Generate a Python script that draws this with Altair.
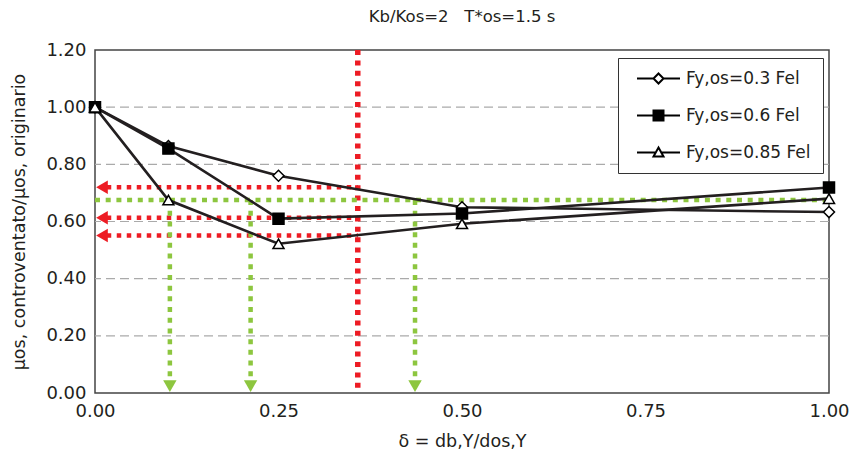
import altair as alt
import pandas as pd

FONT = "DejaVu Sans"
TXT = "#231f20"
RED = "#ed1c24"
GREEN = "#8dc63f"

series_names = ["Fy,os=0.3 Fel", "Fy,os=0.6 Fel", "Fy,os=0.85 Fel"]
x_vals = [0.0, 0.1, 0.25, 0.5, 1.0]
y_03 = [1.0, 0.864, 0.760, 0.650, 0.633]
y_06 = [1.0, 0.855, 0.610, 0.628, 0.719]
y_085 = [1.0, 0.675, 0.522, 0.592, 0.680]
marker_shapes = ["diamond", "square", "triangle-up"]
marker_fills = ["white", "black", "white"]
legend_paths = [
    "M-4.3,0H-1M1,0H4.3M0,-1L1,0L0,1L-1,0Z",
    "M-4.3,0H-1M1,0H4.3M-1,-1H1V1H-1Z",
    "M-4.3,0H-0.56M0.56,0H4.3M0,-1L1,0.8L-1,0.8Z",
]

x_ticks = [0.0, 0.25, 0.5, 0.75, 1.0]
y_ticks = [0.0, 0.2, 0.4, 0.6, 0.8, 1.0, 1.2]
grid_y = [0.2, 0.4, 0.6, 0.8, 1.0]

red_v_x = [0.358]
red_h_y = [0.720, 0.613, 0.551]
red_h_x_start = 0.016
arrow_left_x = 0.0095
green_h_y = [0.675]
green_v_x = [0.102, 0.212, 0.436]
green_v_end = 0.045
arrow_down_y = 0.024

title_text = "Kb/Kos=2\u00a0\u00a0\u00a0T*os=1.5 s"

rows = []
for name, ys, shp, fc in zip(series_names, [y_03, y_06, y_085], marker_shapes, marker_fills):
    for xv, yv in zip(x_vals, ys):
        rows.append(dict(series=name, x=xv, y=yv, shape=shp, fillc=fc))
df = pd.DataFrame(rows)

X = alt.X("x:Q", scale=alt.Scale(domain=[0, 1], nice=False, zero=False),
          axis=alt.Axis(values=x_ticks, format=".2f", title="δ = db,Y/dos,Y",
                        grid=False, ticks=False, domain=False, labelPadding=9,
                        labelFlush=False, titlePadding=12))
Y = alt.Y("y:Q", scale=alt.Scale(domain=[0, 1.2], nice=False),
          axis=alt.Axis(values=y_ticks, format=".2f",
                        title="μos, controventato/μos, originario",
                        grid=False, ticks=False, domain=False, labelPadding=9,
                        labelFlush=False, titlePadding=17))

grid = alt.Chart(pd.DataFrame({"y": grid_y})).mark_rule(
    color="#aaaaaa", strokeWidth=1.2, strokeDash=[9, 5]).encode(y=Y)

red_v = alt.Chart(pd.DataFrame({"x": red_v_x})).mark_rule(
    color=RED, strokeWidth=5.5, strokeDash=[5, 5.4]).encode(x=X)

red_h = alt.Chart(pd.DataFrame({"y": red_h_y, "x": [red_h_x_start] * len(red_h_y),
                                "x2": red_v_x * len(red_h_y)})).mark_rule(
    color=RED, strokeWidth=4.5, strokeDash=[4.5, 5.5]).encode(y=Y, x=X, x2="x2:Q")

red_arrows = alt.Chart(pd.DataFrame({"y": red_h_y, "x": [arrow_left_x] * len(red_h_y)})).mark_point(
    shape="triangle-left", filled=True, color=RED, size=180, opacity=1).encode(x=X, y=Y)

green_h = alt.Chart(pd.DataFrame({"y": green_h_y, "x": [0.0], "x2": [1.0]})).mark_rule(
    color=GREEN, strokeWidth=4.5, strokeDash=[5, 5.7]).encode(y=Y, x=X, x2="x2:Q")

green_v = alt.Chart(pd.DataFrame({"x": green_v_x, "y": green_h_y * len(green_v_x),
                                  "y2": [green_v_end] * len(green_v_x)})).mark_rule(
    color=GREEN, strokeWidth=4.5, strokeDash=[5, 5.7]).encode(x=X, y=Y, y2="y2:Q")

green_arrows = alt.Chart(pd.DataFrame({"x": green_v_x, "y": [arrow_down_y] * len(green_v_x)})).mark_point(
    shape="triangle-down", filled=True, color=GREEN, size=180, opacity=1).encode(x=X, y=Y)

lines = alt.Chart(df).mark_line(color=TXT, strokeWidth=2.6).encode(
    x=X, y=Y, detail="series:N", order="x:Q")

markers = alt.Chart(df).mark_point(filled=True, stroke="black", strokeWidth=1.5,
                                   size=121, opacity=1).encode(
    x=X, y=Y,
    shape=alt.Shape("shape:N", scale=None),
    fill=alt.Fill("fillc:N", scale=None),
)

leg = alt.Legend(title=None, orient="none", legendX=523, legendY=8,
                 strokeColor="#333333", padding=12, fillColor="white",
                 labelFont=FONT, labelFontSize=17, labelColor=TXT,
                 symbolSize=100, symbolStrokeWidth=2,
                 symbolOpacity=1, rowPadding=18, symbolOffset=20, labelOffset=19,
                 labelLimit=300)

legend_layer = alt.Chart(df).transform_filter("datum.x > 5").mark_point(
    filled=True, strokeWidth=2).encode(
    x=X, y=Y,
    shape=alt.Shape("series:N", scale=alt.Scale(domain=series_names, range=legend_paths), legend=leg),
    fill=alt.Fill("series:N", scale=alt.Scale(domain=series_names, range=marker_fills), legend=leg),
    stroke=alt.Stroke("series:N", scale=alt.Scale(domain=series_names, range=["black"] * 3), legend=leg),
)

chart = alt.layer(
    grid, red_v, red_h, red_arrows, green_h, green_v, green_arrows, lines, markers, legend_layer
).resolve_scale(shape="independent", fill="independent", stroke="independent").properties(
    width=734, height=343,
    autosize=alt.AutoSizeParams(type="none"),
    padding={"left": 95, "top": 50, "right": 22, "bottom": 80},
    background="white",
    title=alt.Title(text=title_text, font=FONT, fontSize=16.5, fontWeight="normal",
                    color=TXT, offset=16, anchor="middle"),
).configure_view(stroke="#444444", strokeWidth=1.5).configure_axis(
    labelFont=FONT, labelFontSize=18, labelColor=TXT,
    titleFont=FONT, titleFontSize=17.5, titleColor=TXT, titleFontWeight="normal",
)

chart.save("out.html", embed_options={"renderer": "svg", "actions": False})
